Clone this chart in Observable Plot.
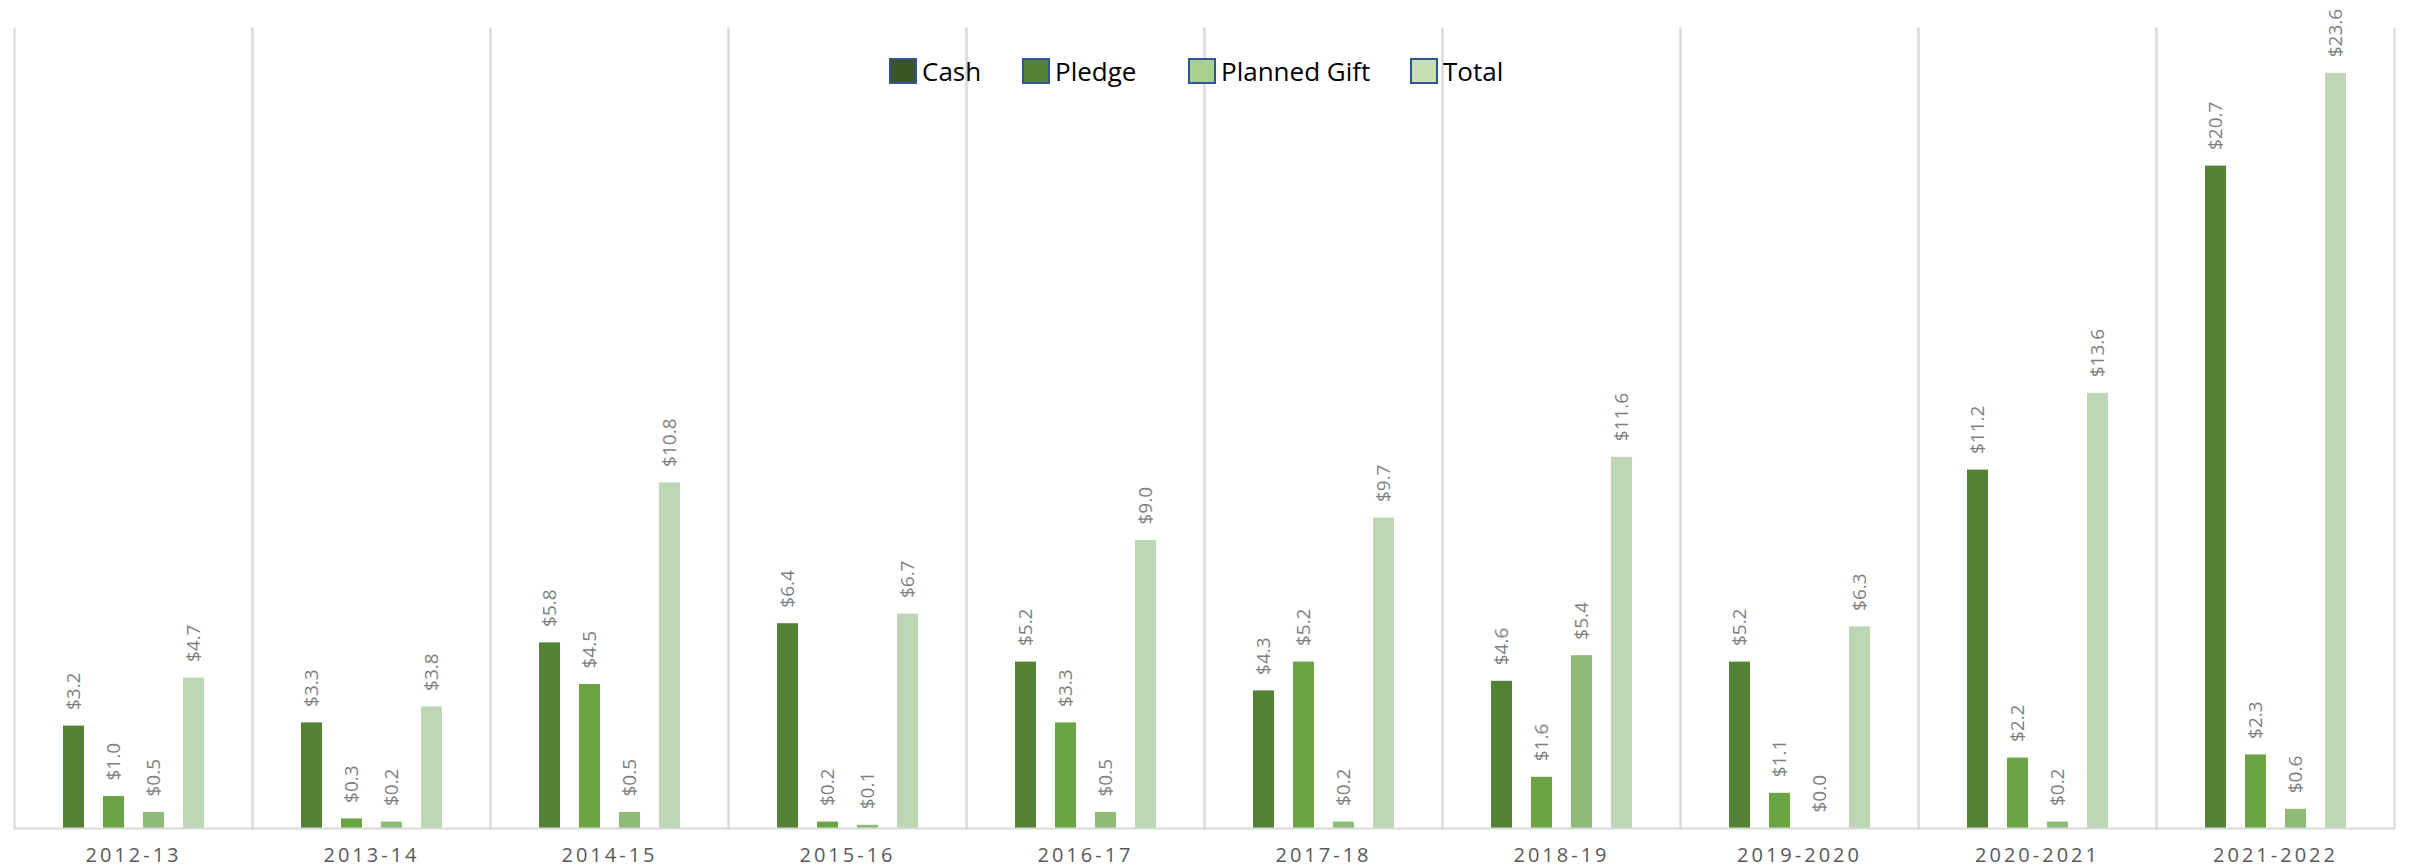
<!DOCTYPE html>
<html>
<head>
<meta charset="utf-8">
<script src="https://cdn.jsdelivr.net/npm/d3@7"></script>
<script src="https://cdn.jsdelivr.net/npm/@observablehq/plot@0.6"></script>
<style>
  html, body { margin: 0; padding: 0; background: #fff; }
  #wrap { position: relative; width: 2415px; height: 868px; }
  .item { position: absolute; top: 53px; height: 36px; display: flex; align-items: center;
    font-family: "Open Sans", sans-serif; font-size: 26px; color: #000; white-space: nowrap; }
  .sw { width: 28px; height: 26px; border: 2px solid #2f5597; box-sizing: border-box; margin-right: 5px; }
</style>
</head>
<body>
<div id="wrap"></div>
<script>
const years = ["2012-13","2013-14","2014-15","2015-16","2016-17","2017-18","2018-19","2019-2020","2020-2021","2021-2022"];
const series = ["Cash","Pledge","Planned Gift","Total"];
const cash    = [3.2, 3.3, 5.8, 6.4, 5.2, 4.3, 4.6, 5.2, 11.2, 20.7];
const pledge  = [1.0, 0.3, 4.5, 0.2, 3.3, 5.2, 1.6, 1.1, 2.2, 2.3];
const planned = [0.5, 0.2, 0.5, 0.1, 0.5, 0.2, 5.4, 0.0, 0.2, 0.6];
const total   = [4.7, 3.8, 10.8, 6.7, 9.0, 9.7, 11.6, 6.3, 13.6, 23.6];
const barColors = ["#548235", "#6aa443", "#8fbb77", "#bdd6b3"];
const legendColors = ["#375623", "#548235", "#a9d08e", "#c6e0b4"];
const legendLeft = [889, 1022, 1188, 1410];

const values = [cash, pledge, planned, total];
const data = [];
years.forEach((y, i) => series.forEach((s, j) => data.push({year: y, series: s, value: values[j][i]})));

const chart = Plot.plot({
  width: 2415,
  height: 868,
  marginLeft: 10,
  marginRight: 17,
  marginTop: 28,
  marginBottom: 40,
  style: {background: "#fff"},
  fx: {domain: years, padding: 0, label: null},
  x: {domain: series, paddingInner: 0.477, paddingOuter: 1.17, axis: null},
  y: {domain: [0, 25], axis: null},
  color: {domain: series, range: barColors},
  marks: [
    Plot.frame({anchor: "left", stroke: "#d9d9d9", strokeWidth: 2}),
    Plot.frame({anchor: "right", stroke: "#d9d9d9", strokeWidth: 2}),
    Plot.barY(data, {fx: "year", x: "series", y: "value", fill: "series", insetLeft: 0, insetRight: 0}),
    Plot.ruleY([0], {stroke: "#d9d9d9", strokeWidth: 2}),
    Plot.text(data, {fx: "year", x: "series", y: "value", text: d => "$" + d.value.toFixed(1),
      rotate: -90, textAnchor: "start", dy: -16, fill: "#7f7f7f", fontSize: 19,
      fontFamily: "Open Sans"}),
    Plot.axisFx({anchor: "bottom", tickSize: 0, tickPadding: 19, fontSize: 20, label: null,
      fill: "#595959", fontFamily: "Open Sans"})
  ]
});
chart.querySelectorAll("[aria-label='fx-axis tick label'] text").forEach(t => {
  t.style.letterSpacing = "3px";
});
const wrap = document.getElementById("wrap");
chart.style.position = "absolute";
chart.style.left = "0";
chart.style.top = "0";
wrap.appendChild(chart);

series.forEach((s, j) => {
  const it = document.createElement("div");
  it.className = "item";
  it.style.left = legendLeft[j] + "px";
  const sw = document.createElement("div");
  sw.className = "sw";
  sw.style.background = legendColors[j];
  const lb = document.createElement("span");
  lb.textContent = s;
  it.appendChild(sw);
  it.appendChild(lb);
  wrap.appendChild(it);
});
</script>
</body>
</html>
